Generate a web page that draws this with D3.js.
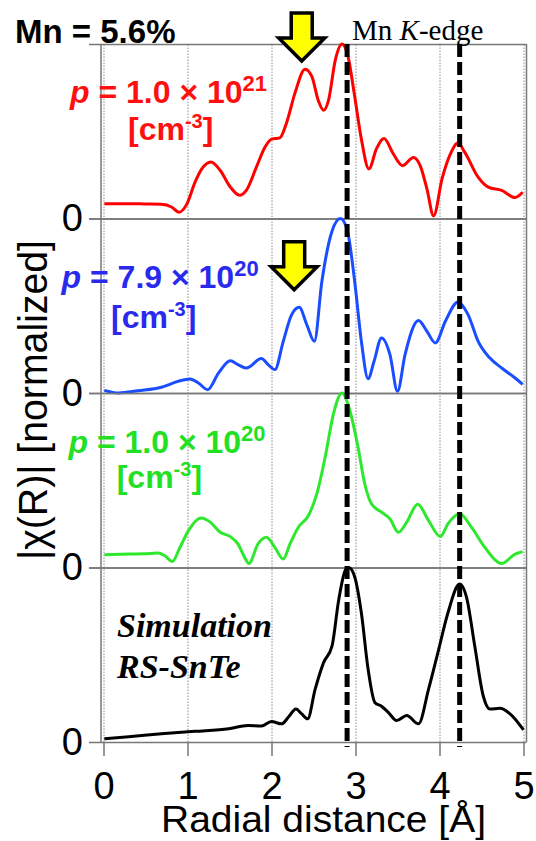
<!DOCTYPE html>
<html>
<head>
<meta charset="utf-8">
<script src="https://cdn.jsdelivr.net/npm/d3@7"></script>
<style>
  body { margin: 0; background: #fff; }
  svg { display: block; }
</style>
</head>
<body>
<div id="chart"></div>
<script>
// x ticks (radial distance, Angstrom)
var xTicks = [0, 1, 2, 3, 4, 5];

// red : p = 1.0 x 10^21
var redR   = [0.01,0.30,0.49,0.69,0.81,0.90,0.99,1.09,1.17,1.28,1.39,1.51,1.62,1.70,1.82,1.92,2.00,2.10,2.18,2.28,2.40,2.48,2.56,2.62,2.68,2.76,2.84,2.91,2.99,3.07,3.16,3.25,3.34,3.45,3.56,3.69,3.77,3.85,3.93,4.03,4.13,4.22,4.30,4.46,4.58,4.74,4.90,4.99];
var redChi = [0.085,0.085,0.083,0.081,0.066,0.036,0.081,0.208,0.284,0.324,0.275,0.18,0.133,0.161,0.294,0.407,0.455,0.462,0.549,0.72,0.856,0.814,0.672,0.62,0.68,0.909,1.0,0.93,0.70,0.455,0.284,0.40,0.458,0.37,0.303,0.35,0.303,0.17,0.015,0.227,0.37,0.432,0.38,0.237,0.18,0.161,0.12,0.15];

// blue : p = 7.9 x 10^20
var blueR   = [0.01,0.18,0.41,0.69,0.89,1.03,1.13,1.24,1.37,1.51,1.60,1.70,1.88,1.96,2.04,2.14,2.24,2.33,2.42,2.51,2.60,2.72,2.82,2.90,2.99,3.07,3.15,3.22,3.31,3.41,3.50,3.59,3.75,3.85,3.95,4.07,4.22,4.34,4.46,4.60,4.74,4.90,4.99];
var blueChi = [0.015,0.0,0.013,0.033,0.067,0.08,0.057,0.019,0.115,0.185,0.163,0.143,0.197,0.163,0.134,0.296,0.449,0.491,0.392,0.296,0.64,0.927,1.0,0.937,0.64,0.296,0.082,0.18,0.315,0.22,0.01,0.22,0.415,0.354,0.287,0.411,0.522,0.449,0.296,0.2,0.143,0.086,0.05];

// green : p = 1.0 x 10^20
var greenR   = [0.01,0.30,0.49,0.65,0.73,0.82,0.91,1.01,1.16,1.27,1.39,1.51,1.60,1.68,1.73,1.84,1.94,2.04,2.14,2.22,2.32,2.44,2.54,2.64,2.74,2.84,2.93,3.03,3.11,3.19,3.31,3.41,3.51,3.61,3.74,3.87,4.01,4.10,4.24,4.38,4.54,4.74,4.90,4.99];
var greenChi = [0.073,0.077,0.079,0.083,0.067,0.035,0.115,0.21,0.283,0.26,0.202,0.177,0.135,0.058,0.023,0.135,0.173,0.115,0.048,0.135,0.231,0.298,0.423,0.635,0.885,1.0,0.904,0.69,0.48,0.365,0.317,0.279,0.202,0.26,0.362,0.269,0.177,0.25,0.308,0.231,0.115,0.023,0.077,0.09];

// black : simulation RS-SnTe
var simR   = [0.01,0.30,0.69,1.09,1.49,1.72,1.88,2.00,2.12,2.21,2.29,2.36,2.43,2.52,2.62,2.72,2.80,2.88,2.92,2.99,3.07,3.15,3.23,3.31,3.39,3.49,3.61,3.75,3.87,3.99,4.10,4.24,4.32,4.42,4.52,4.60,4.72,4.84,5.0];
var simChi = [0.019,0.03,0.047,0.061,0.076,0.095,0.091,0.117,0.104,0.148,0.189,0.161,0.133,0.303,0.455,0.549,0.814,0.985,1.0,0.947,0.739,0.417,0.227,0.205,0.17,0.123,0.152,0.104,0.303,0.53,0.739,0.905,0.833,0.549,0.265,0.189,0.193,0.161,0.069];

// carrier density labels
var labelMant = ["1.0", "7.9", "1.0"];
var labelExp  = ["21", "20", "20"];

// dashed reference lines (Mn K-edge peaks) and yellow arrows
var edgeR = [2.90, 4.24];
var arrowR = [2.36, 2.27];

var W = 536, H = 841;
var plotTop = 44, plotBottom = 742, nPanel = 4;
var ph = (plotBottom - plotTop) / nPanel;
var frameL = 101, frameR = 526.5;

var x = d3.scaleLinear().domain([0, 5]).range([103.5, 523.5]);

var svg = d3.select("#chart").append("svg")
    .attr("width", W)
    .attr("height", H)
    .style("font-family", "'Liberation Sans', Arial, sans-serif");

// dotted vertical grid
svg.append("g")
    .attr("transform", "translate(0," + plotBottom + ")")
    .call(d3.axisBottom(x).tickValues(xTicks).tickSize(-(plotBottom - plotTop)).tickFormat(""))
    .call(function(g){ g.select(".domain").remove(); })
    .selectAll("line")
        .attr("stroke", "#8a8a8a")
        .attr("stroke-width", 1)
        .attr("stroke-dasharray", "1.5,1.5");

// x axis ticks + labels
var xAxis = svg.append("g")
    .attr("transform", "translate(0," + plotBottom + ")")
    .call(d3.axisBottom(x).tickValues(xTicks).tickFormat(d3.format("d"))
        .tickSize(14).tickPadding(16));
xAxis.select(".domain").remove();
xAxis.selectAll("line").attr("stroke", "#777").attr("stroke-width", 1.5);
xAxis.selectAll("text")
    .attr("font-size", "38px")
    .attr("fill", "#000");

// frame sides
svg.append("line").attr("x1", frameL).attr("x2", frameL)
    .attr("y1", plotTop).attr("y2", plotBottom)
    .attr("stroke", "#777").attr("stroke-width", 1.5);
svg.append("line").attr("x1", frameR).attr("x2", frameR)
    .attr("y1", plotTop).attr("y2", plotBottom)
    .attr("stroke", "#777").attr("stroke-width", 1.5);

var series = [
    { r: redR,   v: redChi,   color: "#ff0000" },
    { r: blueR,  v: blueChi,  color: "#1a4dff" },
    { r: greenR, v: greenChi, color: "#2ee82e" },
    { r: simR,   v: simChi,   color: "#000000" }
];

series.forEach(function(s, i){
    var y = d3.scaleLinear().domain([0, 1])
        .range([plotTop + (i + 1) * ph, plotTop + i * ph]);

    // panel lines across, ticks to the left
    var yr = svg.append("g")
        .attr("transform", "translate(" + frameL + ",0)")
        .call(d3.axisRight(y).tickValues([0, 1]).tickSize(frameR - frameL).tickFormat(""));
    yr.select(".domain").remove();
    yr.selectAll("line").attr("stroke", "#777").attr("stroke-width", 1.5);

    var yl = svg.append("g")
        .attr("transform", "translate(" + frameL + ",0)")
        .call(d3.axisLeft(y).tickValues([0, 1]).tickSize(12).tickPadding(6)
            .tickFormat(function(d){ return d === 0 ? "0" : ""; }));
    yl.select(".domain").remove();
    yl.selectAll("line").attr("stroke", "#777").attr("stroke-width", 1.5);
    yl.selectAll("text").attr("font-size", "38px").attr("fill", "#000");

    var line = d3.line()
        .x(function(d){ return x(d[0]); })
        .y(function(d){ return y(d[1]); })
        .curve(d3.curveMonotoneX);

    svg.append("path")
        .datum(d3.zip(s.r, s.v))
        .attr("d", line)
        .attr("fill", "none")
        .attr("stroke", s.color)
        .attr("stroke-width", 3)
        .attr("stroke-linejoin", "round");
});

// dashed vertical lines
svg.selectAll(".edge").data(edgeR).enter().append("line")
    .attr("class", "edge")
    .attr("x1", function(d){ return x(d); })
    .attr("x2", function(d){ return x(d); })
    .attr("y1", plotTop)
    .attr("y2", plotBottom + 5)
    .attr("stroke", "#000")
    .attr("stroke-width", 5)
    .attr("stroke-dasharray", "13,5");

// yellow arrows
var arrowTop = [13, 241.7];
arrowR.forEach(function(r, i){
    var cx = x(r), t = arrowTop[i];
    var sw = 10.5, hw = 23, sl = 25, hl = 23;
    var pts = [[cx - sw, t], [cx + sw, t], [cx + sw, t + sl], [cx + hw, t + sl],
               [cx, t + sl + hl], [cx - hw, t + sl], [cx - sw, t + sl]];
    svg.append("path")
        .attr("d", "M" + pts.join("L") + "Z")
        .attr("fill", "#ffff00")
        .attr("stroke", "#000")
        .attr("stroke-width", 3.5)
        .attr("stroke-linejoin", "miter");
});

// carrier density labels
var labelColor = ["#ff1010", "#2a2aee", "#22e022"];
var l1x = [70, 61.6, 68.5], l1y = [103.3, 288.3, 453.3];
var l2x = [128, 111, 116.7], l2y = [140, 328.3, 488.3];
labelMant.forEach(function(m, i){
    var t = svg.append("text")
        .attr("x", l1x[i]).attr("y", l1y[i])
        .attr("font-size", "32px").attr("font-weight", "bold")
        .attr("fill", labelColor[i]);
    t.append("tspan").attr("font-style", "italic").text("p");
    t.append("tspan").text(" = " + m + " \u00d7 10");
    t.append("tspan").attr("font-size", "22px").attr("dy", -12).text(labelExp[i]);

    var u = svg.append("text")
        .attr("x", l2x[i]).attr("y", l2y[i])
        .attr("font-size", "32px").attr("font-weight", "bold")
        .attr("fill", labelColor[i]);
    u.append("tspan").text("[cm");
    u.append("tspan").attr("font-size", "20px").attr("dy", -12).text("-3");
    u.append("tspan").attr("dy", 12).text("]");
});

// simulation label
var sim = svg.append("text")
    .attr("font-family", "'Liberation Serif', 'Times New Roman', serif")
    .attr("font-size", "34px").attr("font-weight", "bold").attr("font-style", "italic");
sim.append("tspan").attr("x", 117).attr("y", 637).text("Simulation");
sim.append("tspan").attr("x", 117).attr("y", 678).text("RS-SnTe");

// top texts
svg.append("text")
    .attr("x", 15).attr("y", 43)
    .attr("font-size", "33px").attr("font-weight", "bold")
    .text("Mn = 5.6%");

var edge = svg.append("text")
    .attr("x", 352).attr("y", 40)
    .attr("font-family", "'Liberation Serif', 'Times New Roman', serif")
    .attr("font-size", "29px");
edge.append("tspan").text("Mn ");
edge.append("tspan").attr("font-style", "italic").text("K");
edge.append("tspan").text("-edge");

// axis titles
svg.append("text")
    .attr("transform", "translate(47,400) rotate(-90)")
    .attr("text-anchor", "middle")
    .attr("font-size", "40px")
    .attr("textLength", 320)
    .attr("lengthAdjust", "spacingAndGlyphs")
    .text("|\u03c7(R)| [normalized]");

svg.append("text")
    .attr("x", 323.5).attr("y", 832)
    .attr("text-anchor", "middle")
    .attr("font-size", "36px")
    .attr("textLength", 325)
    .attr("lengthAdjust", "spacingAndGlyphs")
    .text("Radial distance [\u00c5]");
</script>
</body>
</html>
